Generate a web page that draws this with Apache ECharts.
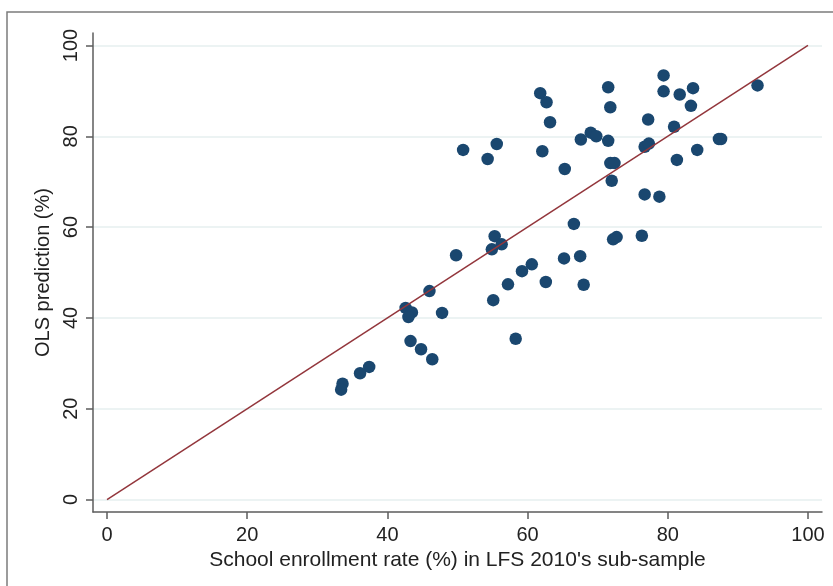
<!DOCTYPE html>
<html>
<head>
<meta charset="utf-8">
<script src="https://cdn.jsdelivr.net/npm/echarts@6/dist/echarts.min.js"></script>
<style>
  html, body { margin: 0; padding: 0; background: #ffffff; }
  #chart { width: 833px; height: 586px; }
</style>
</head>
<body>
<div id="chart"></div>
<script>
// School enrollment rate (%) observed in the LFS 2010 sub-sample
const enrollment = [
  92.8, 83.6, 81.7, 83.3, 80.9, 87.3, 87.6, 84.2, 81.3, 79.4,
  79.4, 71.5, 61.8, 62.7, 71.8, 63.2, 77.2, 69.0, 69.8, 67.6,
  71.5, 50.8, 55.6, 54.3, 62.1, 65.3, 71.8, 72.4, 72.0, 76.7,
  77.3, 76.7, 78.8, 66.6, 76.3, 72.2, 72.7, 55.3, 54.9, 56.3,
  49.8, 65.2, 67.5, 60.6, 59.2, 57.2, 62.6, 68.0, 55.1, 46.0,
  42.6, 43.5, 43.0, 47.8, 58.3, 43.3, 44.8, 46.4, 37.4, 36.1,
  33.6, 33.4
];
// OLS predicted enrollment rate (%) for the same units
const prediction = [
  91.2, 90.6, 89.2, 86.7, 82.1, 79.4, 79.4, 77.0, 74.8, 93.4,
  89.9, 90.8, 89.5, 87.5, 86.4, 83.1, 83.7, 80.8, 80.0, 79.3,
  79.0, 77.0, 78.3, 75.0, 76.7, 72.8, 74.1, 74.1, 70.2, 77.7,
  78.4, 67.2, 66.7, 60.7, 58.1, 57.3, 57.8, 58.0, 55.1, 56.2,
  53.8, 53.1, 53.6, 51.8, 50.3, 47.4, 47.9, 47.3, 43.9, 45.9,
  42.2, 41.2, 40.2, 41.1, 35.4, 34.9, 33.1, 30.9, 29.2, 27.8,
  25.5, 24.2
];
// 45-degree reference line end points
const diagonal = [[0, 0], [100, 100]];
// Tick positions / labels on both axes
const xTicks = [0, 20, 40, 60, 80, 100];
const yTicks = [0, 20, 40, 60, 80, 100];

const points = enrollment.map((v, i) => [v, prediction[i]]);

const axisColor = '#5c5c5c';
const textColor = '#222222';
const font = '"Liberation Sans", Arial, sans-serif';

const chart = echarts.init(document.getElementById('chart'), null, { renderer: 'canvas' });

chart.setOption({
  backgroundColor: '#ffffff',
  animation: false,
  graphic: [{
    type: 'rect',
    silent: true,
    z: -10,
    shape: { x: 7, y: 12, width: 1000, height: 800 },
    style: { fill: 'none', stroke: '#7c7c7c', lineWidth: 1.5 }
  }],
  grid: { left: 93, right: 11, top: 33, bottom: 74, containLabel: false },
  xAxis: {
    type: 'value',
    min: -2,
    max: 102,
    name: "School enrollment rate (%) in LFS 2010's sub-sample",
    nameLocation: 'middle',
    nameGap: 33,
    nameTextStyle: { color: textColor, fontFamily: font, fontSize: 21 },
    axisLine: { show: true, onZero: false, lineStyle: { color: axisColor, width: 1.5 } },
    axisTick: { show: true, length: 7, customValues: xTicks, lineStyle: { color: axisColor, width: 1.5 } },
    axisLabel: { customValues: xTicks, margin: 13, color: textColor, fontFamily: font, fontSize: 20 },
    splitLine: { show: false }
  },
  yAxis: {
    type: 'value',
    min: -2.75,
    max: 102.75,
    name: 'OLS prediction (%)',
    nameLocation: 'middle',
    nameGap: 33,
    nameTextStyle: { color: textColor, fontFamily: font, fontSize: 20 },
    axisLine: { show: true, onZero: false, lineStyle: { color: axisColor, width: 1.5 } },
    axisTick: { show: true, length: 7, customValues: yTicks, lineStyle: { color: axisColor, width: 1.5 } },
    axisLabel: { customValues: yTicks, rotate: 90, margin: 12, color: textColor, fontFamily: font, fontSize: 20 },
    splitLine: { show: true, lineStyle: { color: '#e6efef', width: 1.5 } }
  },
  series: [
    {
      type: 'scatter',
      data: points,
      symbol: 'circle',
      symbolSize: 12.5,
      itemStyle: { color: '#1a476f', opacity: 1 },
      z: 2
    },
    {
      type: 'line',
      data: diagonal,
      symbol: 'none',
      lineStyle: { color: '#93363c', width: 1.5 },
      z: 3
    }
  ]
});
</script>
</body>
</html>
